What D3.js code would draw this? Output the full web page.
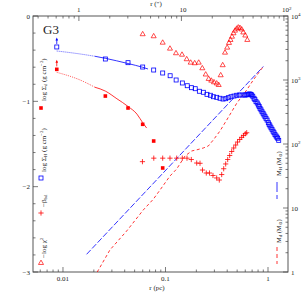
<!DOCTYPE html>
<html>
<head>
<meta charset="utf-8">
<script src="https://cdn.jsdelivr.net/npm/d3@7"></script>
<style>
body{margin:0;background:#fff;}
svg text{font-family:"Liberation Serif","DejaVu Serif",serif;fill:#222;}
</style>
</head>
<body>
<svg id="chart" width="305" height="305"></svg>
<script>
// values, r in pc
var sigmaD = [[0.0087,-0.625],[0.0259,-0.938],[0.0431,-1.078],[0.0599,-1.269],[0.0767,-1.465],[0.0939,-1.781]];
var sigmaH = [[0.0087,-0.363],[0.0259,-0.504],[0.0431,-0.547],[0.0599,-0.598],[0.0767,-0.633],[0.0939,-0.668],
  [0.111,-0.70],[0.127,-0.75],[0.146,-0.785],[0.163,-0.817],[0.179,-0.84],[0.195,-0.852],[0.214,-0.882],
  [0.234,-0.894],[0.254,-0.918],[0.274,-0.929],[0.293,-0.946],[0.316,-0.953],[0.340,-0.964],[0.364,-0.973],
  [0.387,-0.969],[0.410,-0.957],[0.436,-0.946],[0.466,-0.938],[0.495,-0.929],[0.525,-0.926],[0.558,-0.926],
  [0.592,-0.926],[0.61,-0.925],[0.628,-0.922],[0.65,-0.915],[0.667,-0.914],[0.68,-0.92],[0.693,-0.926],
  [0.71,-0.94],[0.730,-0.964],[0.745,-0.98],[0.764,-1.004],[0.785,-1.02],[0.804,-1.043],[0.82,-1.06],
  [0.836,-1.082],[0.855,-1.10],[0.874,-1.122],[0.895,-1.14],[0.914,-1.16],[0.935,-1.18],[0.956,-1.199],
  [0.98,-1.22],[1.007,-1.25],[1.025,-1.27],[1.046,-1.289],[1.07,-1.31],[1.094,-1.328],[1.12,-1.35],
  [1.144,-1.368],[1.17,-1.39],[1.197,-1.406],[1.22,-1.42],[1.243,-1.433],[1.272,-1.457]];
var beta = [[0.0596,-1.707],[0.0769,-1.666],[0.0939,-1.666],[0.1106,-1.666],[0.1286,-1.666],[0.1459,-1.666],
  [0.1621,-1.666],[0.1785,-1.682],[0.2016,-1.723],[0.2171,-1.726],[0.2296,-1.805],[0.250,-1.84],[0.2687,-1.84],
  [0.2906,-1.869],[0.3158,-1.898],[0.3349,-1.922],[0.3534,-1.858],[0.3697,-1.79],[0.3866,-1.734],[0.4044,-1.682],
  [0.4229,-1.635],[0.4424,-1.588],[0.4627,-1.547],[0.484,-1.512],[0.504,-1.477],[0.5296,-1.447],[0.5538,-1.422],
  [0.5768,-1.40],[0.6004,-1.379],[0.6196,-1.368]];
var chi2 = [[0.0599,-0.214],[0.0767,-0.238],[0.0939,-0.313],[0.1106,-0.383],[0.1266,-0.437],[0.1449,-0.454],
  [0.161,-0.507],[0.1761,-0.547],[0.1927,-0.554],[0.2109,-0.547],[0.2286,-0.613],[0.2467,-0.686],[0.2639,-0.738],
  [0.2797,-0.758],[0.2972,-0.777],[0.3158,-0.791],[0.3304,-0.809],[0.3455,-0.695],[0.3614,-0.577],[0.3806,-0.43],
  [0.3999,-0.371],[0.4164,-0.316],[0.4306,-0.281],[0.4454,-0.243],[0.4607,-0.203],[0.4764,-0.172],[0.495,-0.149],
  [0.5131,-0.135],[0.5331,-0.141],[0.5538,-0.158],[0.5741,-0.193],[0.6004,-0.229],[0.6281,-0.281]];
var fitD = [[0.0087,-0.66],[0.0147,-0.75],[0.0205,-0.835],[0.0259,-0.88],[0.0336,-0.97],[0.0431,-1.06],
  [0.0527,-1.15],[0.0599,-1.25],[0.0655,-1.313]];
var fitH = [[0.0087,-0.41],[0.0147,-0.445],[0.0205,-0.472],[0.0259,-0.496],[0.0431,-0.557],[0.0599,-0.601],[0.0675,-0.621]];
var fitSplit = 0.0205;
var massH = [[0.0170,1.89],[0.90,1626]];
var massD = [[0.0216,1.0],[0.0287,2.21],[0.0418,4.37],[0.0607,9.31],[0.076,13.7],[0.0884,19.1],[0.1106,31.6],
  [0.1286,40.7],[0.1549,64.9],[0.1801,77.8],[0.2075,82.0],[0.2338,86.6],[0.2616,93.1],[0.2926,115.5],
  [0.3402,159.7],[0.3955,237],[0.495,432],[0.6196,698],[0.7188,1000],[0.90,1626]];

var pcPerArcsec = 0.0143;
var xTicks = [0.01,0.1,1], xTickLabels = ["0.01","0.1","1"];
var topTicks = [1,10,100], topTickLabels = [["1",""],["10",""],["10","2"]];
var yTicks = [0,-1,-2,-3], yTickLabels = ["0","\u22121","\u22122","\u22123"];
var mTicks = [1,10,100,1000,10000], mTickLabels = [["1",""],["10",""],["10","2"],["10","3"],["10","4"]];

var L = 33, R = 288, T = 16, B = 272;
var red = "#ff0000", blue = "#0000ff";
var svg = d3.select("#chart");

var x = d3.scaleLog().domain([0.0051, 1.567]).range([L, R]);
var xa = d3.scaleLog().domain([0.0051/pcPerArcsec, 1.567/pcPerArcsec]).range([L, R]);
var y = d3.scaleLinear().domain([-3, 0]).range([B, T]);
var yM = d3.scaleLog().domain([1, 1e4]).range([B, T]);

function isDecade(v){ var l = Math.log10(v); return Math.abs(l - Math.round(l)) < 1e-6; }

// ticks
var tk = svg.append("g").attr("stroke", "#444").attr("stroke-width", 0.7);
x.ticks(30).forEach(function(v){
  var len = isDecade(v) ? 5 : 2.5;
  tk.append("line").attr("x1", x(v)).attr("x2", x(v)).attr("y1", B).attr("y2", B - len);
});
xa.ticks(30).forEach(function(v){
  var len = isDecade(v) ? 5 : 2.5;
  tk.append("line").attr("x1", xa(v)).attr("x2", xa(v)).attr("y1", T).attr("y2", T + len);
});
d3.range(-3, 0.01, 0.2).forEach(function(v){
  var len = Math.abs(v - Math.round(v)) < 1e-6 ? 5 : 2.5;
  tk.append("line").attr("x1", L).attr("x2", L + len).attr("y1", y(v)).attr("y2", y(v));
});
yM.ticks(40).forEach(function(v){
  var len = isDecade(v) ? 5 : 2.5;
  tk.append("line").attr("x1", R).attr("x2", R - len).attr("y1", yM(v)).attr("y2", yM(v));
});

svg.append("rect").attr("x", L).attr("y", T).attr("width", R - L).attr("height", B - T)
  .attr("fill", "none").attr("stroke", "#444").attr("stroke-width", 0.9);

// tick labels
var fs = 7;
xTicks.forEach(function(v, i){
  svg.append("text").attr("x", x(v)).attr("y", B + 8.5).attr("text-anchor", "middle")
    .attr("font-size", fs).text(xTickLabels[i]);
});
topTicks.forEach(function(v, i){
  var t = svg.append("text").attr("x", xa(v) - 2).attr("y", T - 4).attr("font-size", fs);
  t.append("tspan").text(topTickLabels[i][0]);
  if (topTickLabels[i][1]) t.append("tspan").attr("dy", -2.5).attr("font-size", 5).text(topTickLabels[i][1]);
});
yTicks.forEach(function(v, i){
  svg.append("text").attr("x", L - 3).attr("y", y(v) + 2.5).attr("text-anchor", "end")
    .attr("font-size", fs).text(yTickLabels[i]);
});
mTicks.forEach(function(v, i){
  var t = svg.append("text").attr("x", R + 3).attr("y", yM(v) + 2.5).attr("font-size", fs);
  t.append("tspan").text(mTickLabels[i][0]);
  if (mTickLabels[i][1]) t.append("tspan").attr("dy", -2.5).attr("font-size", 5).text(mTickLabels[i][1]);
});

svg.append("text").attr("x", 157).attr("y", 290).attr("text-anchor", "middle").attr("font-size", fs).text("r (pc)");
svg.append("text").attr("x", 156).attr("y", 6).attr("text-anchor", "middle").attr("font-size", fs).text("r (\u2033)");
svg.append("text").attr("x", 43).attr("y", 33.5).attr("font-size", 13).text("G3");

// lines
var line = d3.line().x(function(d){ return x(d[0]); }).y(function(d){ return y(d[1]); }).curve(d3.curveMonotoneX);
var lineM = d3.line().x(function(d){ return x(d[0]); }).y(function(d){ return yM(d[1]); });

[[fitD, red], [fitH, blue]].forEach(function(p){
  svg.append("path").attr("d", line(p[0].filter(function(d){ return d[0] <= fitSplit; })))
    .attr("fill", "none").attr("stroke", p[1]).attr("stroke-width", 0.8).attr("stroke-dasharray", "0.8,1.2");
  svg.append("path").attr("d", line(p[0].filter(function(d){ return d[0] >= fitSplit; })))
    .attr("fill", "none").attr("stroke", p[1]).attr("stroke-width", 0.8);
});

svg.append("path").attr("d", lineM(massH)).attr("fill", "none").attr("stroke", blue)
  .attr("stroke-width", 0.8).attr("stroke-dasharray", "6,2");
svg.append("path").attr("d", lineM(massD)).attr("fill", "none").attr("stroke", red)
  .attr("stroke-width", 0.8).attr("stroke-dasharray", "3,2.5");

// markers
var tri = d3.symbol().type(d3.symbolTriangle).size(11);
svg.append("g").selectAll("path").data(chi2).enter().append("path")
  .attr("d", tri).attr("transform", function(d){ return "translate(" + x(d[0]) + "," + y(d[1]) + ")"; })
  .attr("fill", "none").attr("stroke", red).attr("stroke-width", 0.7);

svg.append("g").selectAll("path").data(beta).enter().append("path")
  .attr("d", "M-2.6,0H2.6M0,-2.6V2.6")
  .attr("transform", function(d){ return "translate(" + x(d[0]) + "," + y(d[1]) + ")"; })
  .attr("fill", "none").attr("stroke", red).attr("stroke-width", 0.8);

svg.append("g").selectAll("rect").data(sigmaH).enter().append("rect")
  .attr("x", function(d){ return x(d[0]) - 2; }).attr("y", function(d){ return y(d[1]) - 2; })
  .attr("width", 4).attr("height", 4).attr("fill", "none").attr("stroke", blue).attr("stroke-width", 0.8);

svg.append("g").selectAll("rect").data(sigmaD).enter().append("rect")
  .attr("x", function(d){ return x(d[0]) - 1.8; }).attr("y", function(d){ return y(d[1]) - 1.8; })
  .attr("width", 3.6).attr("height", 3.6).attr("fill", red);

// upper-limit arrows on the innermost points
function arrow(d, c){
  var ax = x(d[0]), ay = y(d[1]);
  svg.append("line").attr("x1", ax).attr("x2", ax).attr("y1", ay - 3).attr("y2", ay - 8)
    .attr("stroke", c).attr("stroke-width", 0.8);
  svg.append("path").attr("d", "M" + (ax - 1.3) + "," + (ay - 6.5) + "L" + ax + "," + (ay - 9.5) + "L" + (ax + 1.3) + "," + (ay - 6.5) + "Z")
    .attr("fill", c);
}
arrow(sigmaH[0], blue);
arrow(sigmaD[0], red);

// legend, left column
function rotLabel(px, py, parts, size){
  var t = svg.append("text").attr("transform", "translate(" + px + "," + py + ") rotate(-90)").attr("font-size", size);
  parts.forEach(function(p){
    var s = t.append("tspan").text(p[0]);
    if (p[1] === "sub") s.attr("font-size", size * 0.7).attr("dy", 1.5);
    if (p[1] === "sup") s.attr("font-size", size * 0.7).attr("dy", -2.5);
    if (p[1] === "back") s.attr("dy", p[2]);
  });
}
var ls = 7;
rotLabel(45.5, 101, [["log \u03a3"], ["d", "sub"], [" (g cm", "back", -1.5], ["\u22122", "sup"], [")", "back", 2.5]], ls);
svg.append("rect").attr("x", 39.2).attr("y", 106.2).attr("width", 3.6).attr("height", 3.6).attr("fill", red);
rotLabel(45.5, 172, [["log \u03a3"], ["H", "sub"], [" (g cm", "back", -1.5], ["\u22122", "sup"], [")", "back", 2.5]], ls);
svg.append("rect").attr("x", 39).attr("y", 176).attr("width", 4).attr("height", 4).attr("fill", "none")
  .attr("stroke", blue).attr("stroke-width", 0.8);
rotLabel(45.5, 207, [["\u2212\u03b2"], ["bd", "sub"]], ls);
svg.append("path").attr("d", "M38.4,213H43.6M41,210.4V215.6").attr("stroke", red).attr("stroke-width", 0.8);
rotLabel(45.5, 258, [["\u2212log \u03c7"], ["2", "sup"]], ls);
svg.append("path").attr("d", tri).attr("transform", "translate(41,263)").attr("fill", "none").attr("stroke", red).attr("stroke-width", 0.7);

// legend, right column
rotLabel(280.5, 176, [["M"], ["H", "sub"], [" (M", "back", -1.5], ["\u2299", "sub"], [")", "back", -1.5]], 6.5);
svg.append("line").attr("x1", 277).attr("x2", 277).attr("y1", 182).attr("y2", 199)
  .attr("stroke", blue).attr("stroke-width", 0.8).attr("stroke-dasharray", "10,3");
rotLabel(280.5, 243, [["M"], ["d", "sub"], [" (M", "back", -1.5], ["\u2299", "sub"], [")", "back", -1.5]], 6.5);
svg.append("line").attr("x1", 277).attr("x2", 277).attr("y1", 247).attr("y2", 264)
  .attr("stroke", red).attr("stroke-width", 0.8).attr("stroke-dasharray", "4,3");
</script>
</body>
</html>
